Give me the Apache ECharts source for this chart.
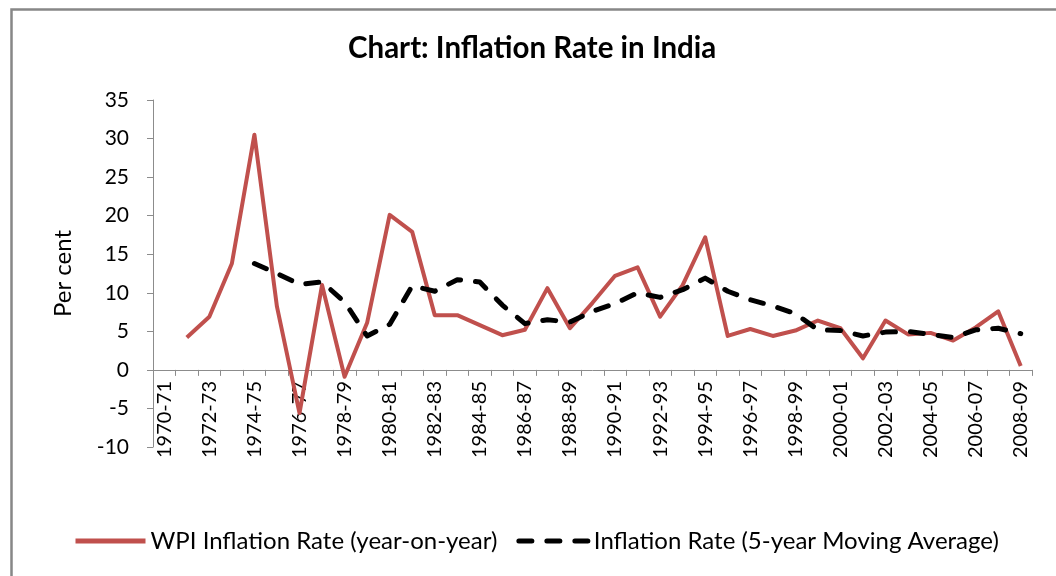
<!DOCTYPE html>
<html>
<head>
<meta charset="utf-8">
<script src="https://cdn.jsdelivr.net/npm/echarts@6/dist/echarts.min.js"></script>
<style>
  html, body { margin: 0; padding: 0; background: #fff; }
  #chart { width: 1056px; height: 576px; }
</style>
</head>
<body>
<div id="chart"></div>
<script>
// fiscal years on the x axis
const years = [
  '1970-71','1971-72','1972-73','1973-74','1974-75','1975-76','1976-77','1977-78','1978-79','1979-80',
  '1980-81','1981-82','1982-83','1983-84','1984-85','1985-86','1986-87','1987-88','1988-89','1989-90',
  '1990-91','1991-92','1992-93','1993-94','1994-95','1995-96','1996-97','1997-98','1998-99','1999-00',
  '2000-01','2001-02','2002-03','2003-04','2004-05','2005-06','2006-07','2007-08','2008-09'
]
// WPI inflation, year-on-year (%)
const wpiRate = [
  null, 4.2, 6.9, 13.8, 30.5, 8.2, -5.6, 11.0, -0.9, 6.1,
  20.1, 17.9, 7.1, 7.1, 5.8, 4.5, 5.2, 10.6, 5.4, 8.7,
  12.2, 13.3, 6.9, 11.0, 17.2, 4.4, 5.3, 4.4, 5.1, 6.4,
  5.4, 1.5, 6.4, 4.6, 4.8, 3.8, 5.5, 7.6, 0.5
]
// 5-year moving average (%)
const movingAvg = [
  null, null, null, null, 13.8, 12.5, 11.1, 11.4, 8.8, 4.4,
  5.9, 10.9, 10.2, 11.7, 11.4, 8.4, 6.0, 6.5, 6.2, 7.6,
  8.6, 10.0, 9.4, 10.4, 11.9, 10.2, 9.1, 8.3, 7.3, 5.2,
  5.1, 4.4, 4.9, 5.0, 4.6, 4.2, 5.2, 5.4, 4.7
]

const font = 'Lato, "Liberation Sans", sans-serif'
const chart = echarts.init(document.getElementById('chart'))

chart.setOption({
  animation: false,
  backgroundColor: '#fff',
  textStyle: { fontFamily: font, color: '#000' },
  graphic: [{
    type: 'rect', left: 9, top: 7, silent: true,
    shape: { x: 0, y: 0, width: 1100, height: 700 },
    style: { fill: 'none', stroke: '#878787', lineWidth: 2.5 }
  }],
  title: {
    text: 'Chart: Inflation Rate in India',
    left: 348, top: 33, padding: 0,
    textStyle: { fontFamily: font, fontSize: 29.5, fontWeight: 'bold', color: '#000' }
  },
  legend: {
    left: 73, top: 529, padding: 0,
    itemWidth: 70, itemHeight: 14, itemGap: 19,
    itemStyle: { opacity: 0 },
    lineStyle: { width: 5 },
    textStyle: { fontFamily: font, fontSize: 24, color: '#000' },
    data: ['WPI Inflation Rate (year-on-year)', 'Inflation Rate (5-year Moving Average)']
  },
  grid: { left: 153, right: 24, top: 100, bottom: 129 },
  xAxis: {
    type: 'category', data: years, boundaryGap: true, z: 0,
    axisLine: { onZero: true, lineStyle: { color: '#8c8c8c', width: 1 } },
    axisTick: { show: true, interval: 0, length: 6, lineStyle: { color: '#8c8c8c' } },
    // labels hang just under the zero line, as in the original
    axisLabel: { interval: 1, rotate: 90, margin: -66, fontSize: 20, color: '#000', fontFamily: font }
  },
  yAxis: {
    type: 'value', min: -10, max: 35, interval: 5,
    name: 'Per cent', nameLocation: 'middle', nameGap: 78, nameRotate: 90,
    nameTextStyle: { fontFamily: font, fontSize: 24, color: '#000' },
    axisLine: { show: true, lineStyle: { color: '#8c8c8c', width: 1 } },
    axisTick: { show: true, length: 6, lineStyle: { color: '#8c8c8c' } },
    axisLabel: { margin: 24, fontSize: 21, color: '#000', fontFamily: font },
    splitLine: { show: false }
  },
  series: [
    {
      name: 'WPI Inflation Rate (year-on-year)', type: 'line', data: wpiRate,
      symbol: 'none', color: '#C0504D', z: 10,
      lineStyle: { color: '#C0504D', width: 4, join: 'round' }
    },
    {
      name: 'Inflation Rate (5-year Moving Average)', type: 'line', data: movingAvg,
      symbol: 'none', color: '#000', z: 11,
      lineStyle: { color: '#000', width: 5, type: [13, 15], cap: 'round', join: 'round' }
    }
  ]
})
</script>
</body>
</html>
